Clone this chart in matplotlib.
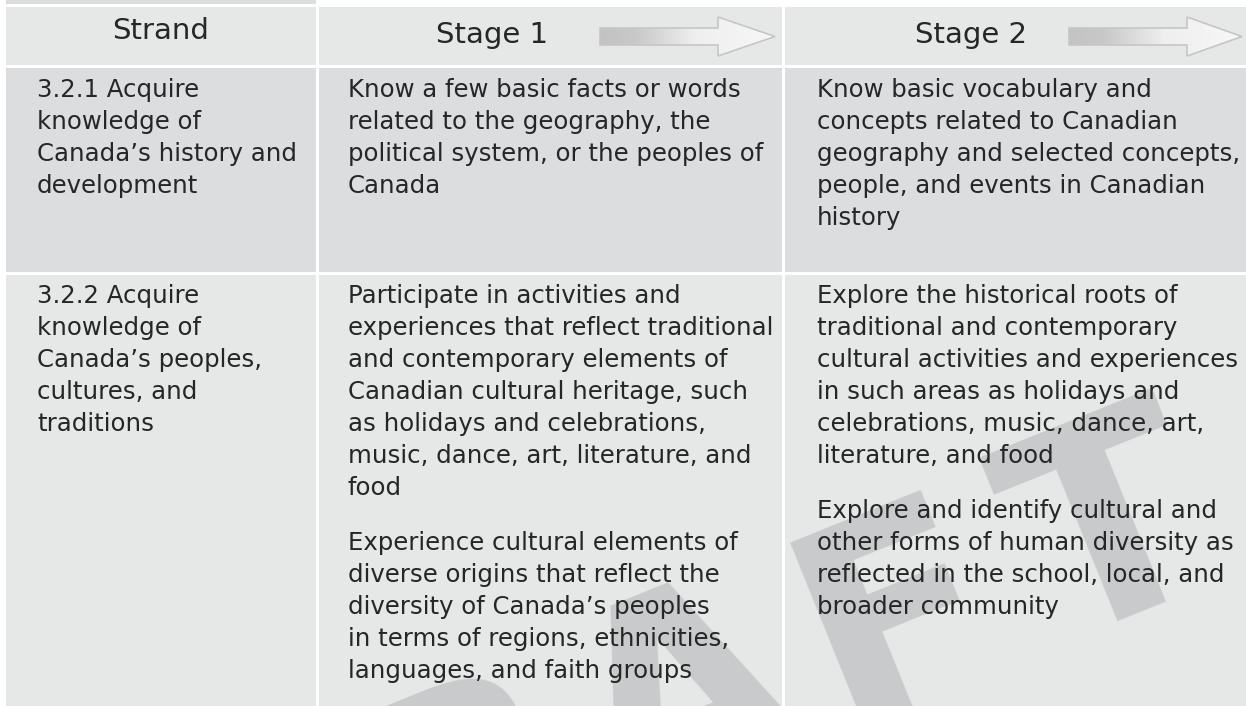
import numpy as np
import matplotlib.pyplot as plt
from matplotlib.patches import Rectangle, Polygon
from matplotlib.colors import LinearSegmentedColormap

# table content
headers = ["Strand", "Stage 1", "Stage 2"]
strands = [
    ["3.2.1 Acquire", "knowledge of", "Canada’s history and", "development"],
    ["3.2.2 Acquire", "knowledge of", "Canada’s peoples,", "cultures, and", "traditions"],
]
stage1 = [
    [["Know a few basic facts or words", "related to the geography, the",
      "political system, or the peoples of", "Canada"]],
    [["Participate in activities and", "experiences that reflect traditional",
      "and contemporary elements of", "Canadian cultural heritage, such",
      "as holidays and celebrations,", "music, dance, art, literature, and", "food"],
     ["Experience cultural elements of", "diverse origins that reflect the",
      "diversity of Canada’s peoples", "in terms of regions, ethnicities,",
      "languages, and faith groups"]],
]
stage2 = [
    [["Know basic vocabulary and", "concepts related to Canadian",
      "geography and selected concepts,", "people, and events in Canadian", "history"]],
    [["Explore the historical roots of", "traditional and contemporary",
      "cultural activities and experiences", "in such areas as holidays and",
      "celebrations, music, dance, art,", "literature, and food"],
     ["Explore and identify cultural and", "other forms of human diversity as",
      "reflected in the school, local, and", "broader community"]],
]
watermark = "DRAFT"

W, H = 1246, 706
col_x = [(6, 316), (319, 782), (785, 1246)]
row_y = [(7, 65), (68, 272), (275, 706)]
row_fill = ["#e6e7e7", "#dcdddf", "#e6e7e7"]
text_x = [37, 348, 817]
txt_col = "#262626"
line_h = 32
para_gap = 23

fig = plt.figure(figsize=(W / 100, H / 100), dpi=100)
ax = fig.add_axes([0, 0, 1, 1])

# cell backgrounds
ax.add_patch(Rectangle((6, 0), 310, 4, color="#dcdddf", lw=0, zorder=0))
for (y0, y1), fc in zip(row_y, row_fill):
    for x0, x1 in col_x:
        ax.add_patch(Rectangle((x0, y0), x1 - x0, y1 - y0, color=fc, lw=0, zorder=0))

# watermark, letters spaced out along a tilted baseline
ang = 22
step = 230
cx, cy = 715, 782  # baseline centre of the middle letter
ca, sa = np.cos(np.radians(ang)), np.sin(np.radians(ang))
mid = (len(watermark) - 1) / 2
for i, ch in enumerate(watermark):
    d = (i - mid) * step
    ax.text(cx + d * ca, cy - d * sa, ch, fontsize=200, fontweight="bold",
            color="#c9cacc", rotation=ang, rotation_mode="anchor",
            ha="center", va="baseline", zorder=1)

# header
ax.text(161, 39, headers[0], fontsize=21, color=txt_col, ha="center", va="baseline", zorder=4)
ax.text(436, 43, headers[1], fontsize=21, color=txt_col, ha="left", va="baseline", zorder=4)
ax.text(915, 43, headers[2], fontsize=21, color=txt_col, ha="left", va="baseline", zorder=4)

cmap = LinearSegmentedColormap.from_list(
    "arr", [(0, "#c3c3c3"), (0.2, "#c8c8c8"), (0.55, "#efefef"), (1, "#f7f7f7")])


def draw_arrow(x0, xh, xt, yc=36.5, sh=8.5, hh=19.5):
    pts = [(x0, yc - sh), (xh, yc - sh), (xh, yc - hh), (xt, yc),
           (xh, yc + hh), (xh, yc + sh), (x0, yc + sh)]
    poly = Polygon(pts, closed=True, fc="none", ec="#c6c6c6", lw=1.2, zorder=3)
    ax.add_patch(poly)
    grad = np.linspace(0, 1, 256).reshape(1, -1)
    im = ax.imshow(grad, cmap=cmap, extent=(x0, xt, yc + hh, yc - hh),
                   aspect="auto", zorder=2, interpolation="bilinear")
    im.set_clip_path(poly)


draw_arrow(600, 718, 775)
draw_arrow(1069, 1187, 1242)


def draw_cell(x, top, paras):
    y = top
    for para in paras:
        for line in para:
            ax.text(x, y, line, fontsize=17.6, color=txt_col, va="baseline", zorder=4)
            y += line_h
        y += para_gap


first_base = [97, 303]
for r in range(2):
    draw_cell(text_x[0], first_base[r], [strands[r]])
    draw_cell(text_x[1], first_base[r], stage1[r])
    draw_cell(text_x[2], first_base[r], stage2[r])

ax.set_xlim(0, W)
ax.set_ylim(H, 0)
ax.axis("off")
fig.savefig("out.png", dpi=100, facecolor="white")
